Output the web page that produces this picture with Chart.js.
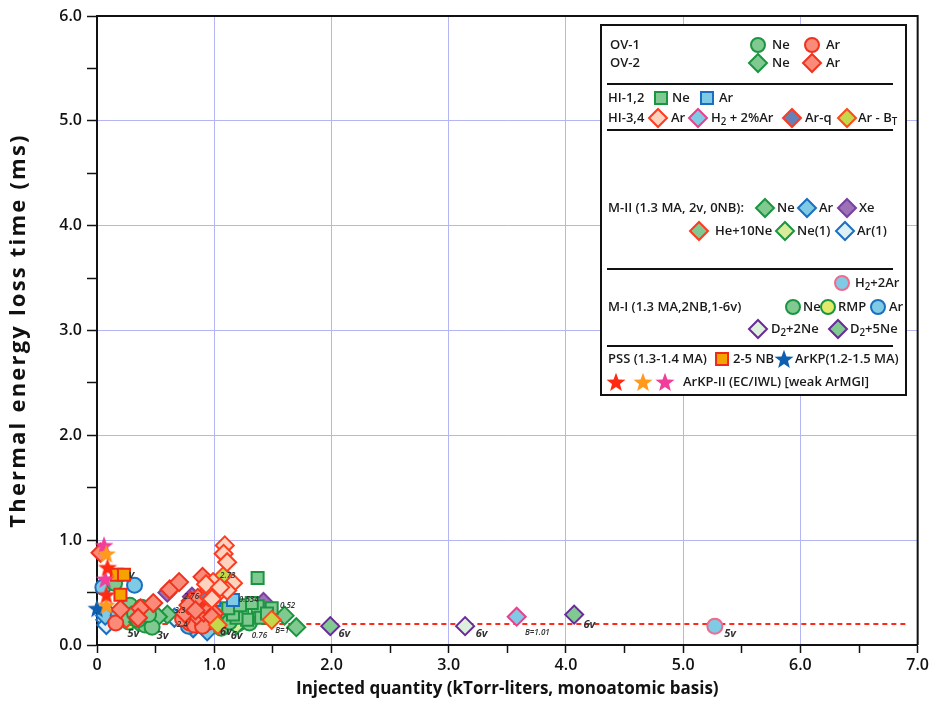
<!DOCTYPE html>
<html lang="en">
<head>
<meta charset="UTF-8">
<title>Thermal energy loss time vs injected quantity</title>
<script src="https://cdn.jsdelivr.net/npm/chart.js"></script>
<style>
    body { margin: 0; background: #fff; }
    #wrap { width: 932px; height: 711px; }
</style>
</head>
<body>
<div id="wrap"><canvas id="chart" width="932" height="711"></canvas></div>
<script>
// ---- data: [injected quantity, loss time] ----
const ov1Ne = [[0.15,0.59],[0.28,0.38],[0.32,0.30],[0.41,0.19],[0.47,0.17],[0.38,0.36],[1.06,0.16],[1.06,0.33],[1.30,0.21],[0.35,0.24],[0.44,0.29],[1.13,0.22]];
const ov1Ar = [[0.16,0.21],[0.79,0.21],[0.88,0.24],[0.96,0.22],[0.85,0.30],[0.92,0.27],[0.78,0.31],[0.83,0.19],[0.90,0.18],[0.73,0.25]];
const ov2Ne = [[0.30,0.34],[0.45,0.33],[0.52,0.27],[1.10,0.62],[1.00,0.30]];
const ov2Ar = [[0.03,0.88],[0.20,0.34],[0.37,0.35],[0.48,0.40],[0.35,0.26],[0.62,0.53],[0.70,0.60],[0.90,0.65],[0.92,0.48],[0.82,0.36],[0.88,0.37],[0.94,0.40],[0.85,0.28],[0.91,0.31],[0.96,0.34],[0.80,0.42],[0.75,0.30],[1.00,0.30],[0.86,0.45],[0.78,0.38],[0.84,0.33],[0.98,0.27]];
const hi12Ne = [[1.37,0.64],[1.24,0.31],[1.37,0.37],[1.49,0.35],[1.28,0.24],[1.40,0.26],[1.19,0.26],[1.32,0.40],[1.16,0.29],[1.12,0.35],[1.22,0.38],[1.45,0.30]];
const hi12Ar = [[1.00,0.43],[1.16,0.43]];
const hi34Ar = [[1.09,0.95],[1.08,0.87],[1.11,0.79],[0.99,0.60],[1.16,0.59],[0.96,0.54],[1.02,0.48],[1.11,0.52],[0.93,0.58],[1.05,0.55],[0.98,0.44]];
const hi34H2 = [[3.58,0.27]];
const hi34ArQ = [[0.95,0.46]];
const hi34ArBT = [[1.09,0.59],[1.03,0.19],[1.49,0.24],[1.08,0.66]];
const m2Ne = [[0.60,0.29],[1.60,0.28],[1.70,0.17]];
const m2Ar = [[0.82,0.16],[0.94,0.13],[0.07,0.28]];
const m2Xe = [[1.42,0.41],[0.60,0.50],[0.81,0.46]];
const m2HeNe = [[0.25,0.25]];
const m2Ne1 = [[1.19,0.19],[0.35,0.22]];
const m2Ar1 = [[0.07,0.24],[0.08,0.19],[0.66,0.26],[0.10,0.30]];
const m1H2Ar = [[5.27,0.18]];
const m1Ne = [[0.22,0.34],[0.25,0.27],[1.00,0.37],[0.30,0.26]];
const m1Rmp = [[0.27,0.22],[1.20,0.20]];
const m1Ar = [[0.32,0.57],[0.05,0.55],[0.42,0.21],[0.18,0.28],[0.78,0.18]];
const m1D2Ne2 = [[3.14,0.18]];
const m1D2Ne5 = [[1.99,0.18],[4.07,0.29]];
const pssNb = [[0.17,0.67],[0.23,0.67],[0.20,0.48]];
const arkp = [[0.00,0.35]];
const arkp2Red = [[0.09,0.74],[0.08,0.48]];
const arkp2Orange = [[0.08,0.87],[0.08,0.38]];
const arkp2Pink = [[0.06,0.95],[0.07,0.63]];

// dashed reference level
const refLineX = [0.02, 6.9];
const refLineY = 0.2;

// small shot notes written next to points
const noteText = ['5v','3v','v','2.76','3.3','2.4','2.73','0.534','0.52','0.76','B=1','6v','6v','6v','6v','B=1.01','6v','5v'];
const noteX = [0.26,0.51,0.27,0.74,0.66,0.68,1.05,1.21,1.56,1.32,1.52,1.05,1.14,2.06,3.23,3.65,4.15,5.35];
const noteY = [0.105,0.086,0.67,0.46,0.33,0.19,0.66,0.43,0.37,0.09,0.14,0.13,0.09,0.11,0.11,0.12,0.19,0.11];

const xTicks = [0,1,2,3,4,5,6,7];
const yTicks = [0,1,2,3,4,5,6];
const yTitle = 'Thermal energy loss time (ms)';

// colours
const GREEN = '#80c990', GREEN_B = '#1a9641';
const SALMON = '#f98b78', RED_B = '#f0321e';
const PEACH = '#fdd3bf';
const LBLUE = '#7fcbe6', BLUE_B = '#1b6fc0';
const PINK_B = '#e8428c';
const GRID = '#b3b5f5';

function pts(a) { return a.map(p => ({x: p[0], y: p[1]})); }

function starImage(color, size) {
    const c = document.createElement('canvas');
    c.width = size; c.height = size;
    const g = c.getContext('2d');
    const R = size / 2, r = R * 0.42;
    g.beginPath();
    for (let i = 0; i < 10; i++) {
        const a = -Math.PI / 2 + i * Math.PI / 5;
        const rr = i % 2 ? r : R;
        g.lineTo(R + rr * Math.cos(a), R * 1.08 + rr * Math.sin(a));
    }
    g.closePath();
    g.fillStyle = color;
    g.fill();
    return c;
}
const starBlue = starImage('#0f5fb0', 20);
const starRed = starImage('#ff2a12', 20);
const starOrange = starImage('#ff9a1a', 20);
const starPink = starImage('#f03e9a', 20);

function ds(label, data, shape, fill, border, r) {
    return {
        label: label, data: pts(data), pointStyle: shape,
        backgroundColor: fill, borderColor: border,
        pointRadius: r, pointHoverRadius: r, pointBorderWidth: 2, clip: false
    };
}
function starDs(label, data, img) {
    return { label: label, data: pts(data), pointStyle: img, pointRadius: 10, clip: false };
}

// first in list = drawn on top
const datasets = [
    starDs('ArKP-II red', arkp2Red, starRed),
    starDs('ArKP-II orange', arkp2Orange, starOrange),
    starDs('ArKP-II pink', arkp2Pink, starPink),
    starDs('ArKP', arkp, starBlue),
    ds('PSS 2-5 NB', pssNb, 'rect', '#f5a300', '#ee2a1a', 8.5),
    ds('HI-3,4 Ar', hi34Ar, 'rectRot', PEACH, '#ff3b1f', 9),
    ds('HI-3,4 Ar-BT', hi34ArBT, 'rectRot', '#c3d84b', '#ff4a1a', 9),
    ds('HI-3,4 Ar-q', hi34ArQ, 'rectRot', '#6680b8', '#ff3b1f', 9),
    ds('OV-2 Ar', ov2Ar, 'rectRot', SALMON, RED_B, 9),
    ds('OV-1 Ar', ov1Ar, 'circle', SALMON, RED_B, 7.5),
    ds('HI-1,2 Ar', hi12Ar, 'rect', LBLUE, BLUE_B, 8.5),
    ds('HI-1,2 Ne', hi12Ne, 'rect', GREEN, GREEN_B, 8.5),
    ds('OV-1 Ne', ov1Ne, 'circle', GREEN, GREEN_B, 7.5),
    ds('OV-2 Ne', ov2Ne, 'rectRot', GREEN, GREEN_B, 9),
    ds('M-II Ne', m2Ne, 'rectRot', GREEN, GREEN_B, 9),
    ds('M-II Ne(1)', m2Ne1, 'rectRot', '#d9ec9c', GREEN_B, 9),
    ds('M-II He+10Ne', m2HeNe, 'rectRot', GREEN, '#ff3b1f', 9),
    ds('M-I Ne', m1Ne, 'circle', GREEN, GREEN_B, 7.5),
    ds('M-I RMP', m1Rmp, 'circle', '#e2ea6a', GREEN_B, 7.5),
    ds('M-I Ar', m1Ar, 'circle', LBLUE, BLUE_B, 7.5),
    ds('M-II Ar', m2Ar, 'rectRot', LBLUE, BLUE_B, 9),
    ds('M-II Ar(1)', m2Ar1, 'rectRot', '#dbeff5', BLUE_B, 9),
    ds('M-II Xe', m2Xe, 'rectRot', '#9b72b5', '#7a3fa0', 9),
    ds('HI-3,4 H2 + 2%Ar', hi34H2, 'rectRot', LBLUE, PINK_B, 9),
    ds('M-I D2+2Ne', m1D2Ne2, 'rectRot', '#dcf0dc', '#6a2a9a', 9),
    ds('M-I D2+5Ne', m1D2Ne5, 'rectRot', GREEN, '#6a2a9a', 9),
    ds('M-I H2+2Ar', m1H2Ar, 'circle', LBLUE, '#f06a8c', 7.5),
    {
        label: 'reference', type: 'line',
        data: refLineX.map(x => ({x: x, y: refLineY})),
        borderColor: '#ff2a1a', borderWidth: 2, borderDash: [5, 4],
        pointRadius: 0, fill: false
    }
];

// text helpers: parts are [text, isSub]
function richText(ctx, parts, x, y, size) {
    let cx = x;
    for (const [t, sub] of parts) {
        ctx.font = '600 ' + (sub ? size * 0.75 : size) + 'px "Open Sans"';
        ctx.fillText(t, cx, sub ? y + size * 0.3 : y);
        cx += ctx.measureText(t).width;
    }
}
function mark(ctx, shape, x, y, fill, border) {
    ctx.save();
    ctx.fillStyle = fill; ctx.strokeStyle = border; ctx.lineWidth = 2;
    ctx.beginPath();
    if (shape === 'circle') ctx.arc(x, y, 7, 0, Math.PI * 2);
    else if (shape === 'square') ctx.rect(x - 6, y - 6, 12, 12);
    else { ctx.moveTo(x, y - 9); ctx.lineTo(x + 9, y); ctx.lineTo(x, y + 9); ctx.lineTo(x - 9, y); ctx.closePath(); }
    ctx.fill(); ctx.stroke();
    ctx.restore();
}

const framePlugin = {
    id: 'frame',
    afterDatasetsDraw(chart) {
        const {ctx, chartArea: a, scales} = chart;
        ctx.save();
        ctx.fillStyle = '#333';
        ctx.textBaseline = 'middle';
        noteText.forEach((t, i) => {
            const small = t.length > 2;
            ctx.font = 'italic ' + (small ? '600 8px' : '700 11px') + ' "Open Sans"';
            ctx.fillText(t, scales.x.getPixelForValue(noteX[i]), scales.y.getPixelForValue(noteY[i]));
        });
        ctx.strokeStyle = '#111';
        ctx.lineWidth = 2;
        ctx.beginPath();
        ctx.moveTo(a.left, a.top); ctx.lineTo(a.right, a.top); ctx.lineTo(a.right, a.bottom);
        ctx.stroke();

        // y axis title, a little letter-spaced like the original
        ctx.translate(19, (a.top + a.bottom) / 2);
        ctx.rotate(-Math.PI / 2);
        ctx.fillStyle = '#111';
        ctx.font = '700 22px "Open Sans"';
        if ('letterSpacing' in ctx) ctx.letterSpacing = '2.2px';
        ctx.textAlign = 'center';
        ctx.fillText(yTitle, 0, 0);
        ctx.restore();
    }
};

const legendPlugin = {
    id: 'boxLegend',
    afterDraw(chart) {
        const ctx = chart.ctx;
        const bx = 601, by = 25;
        ctx.save();
        ctx.fillStyle = '#fff';
        ctx.fillRect(bx, by, 305, 370);
        ctx.strokeStyle = '#111';
        ctx.lineWidth = 2;
        ctx.strokeRect(bx, by, 305, 370);
        [59, 105, 244, 321].forEach(dy => {
            ctx.beginPath(); ctx.moveTo(bx + 6, by + dy); ctx.lineTo(bx + 292, by + dy); ctx.stroke();
        });
        ctx.fillStyle = '#1a1a1a';
        ctx.textBaseline = 'middle';
        const T = (s, x, y) => richText(ctx, typeof s === 'string' ? [[s, 0]] : s, x, y, 13);

        T('OV-1', 610, 45);
        mark(ctx, 'circle', 758, 45, GREEN, GREEN_B); T('Ne', 772, 45);
        mark(ctx, 'circle', 812, 45, SALMON, RED_B); T('Ar', 826, 45);
        T('OV-2', 610, 63);
        mark(ctx, 'diamond', 758, 63, GREEN, GREEN_B); T('Ne', 772, 63);
        mark(ctx, 'diamond', 812, 63, SALMON, RED_B); T('Ar', 826, 63);

        T('HI-1,2', 608, 98);
        mark(ctx, 'square', 661, 98, GREEN, GREEN_B); T('Ne', 672, 98);
        mark(ctx, 'square', 707, 98, LBLUE, BLUE_B); T('Ar', 719, 98);
        T('HI-3,4', 608, 118);
        mark(ctx, 'diamond', 658, 118, PEACH, '#ff3b1f'); T('Ar', 671, 118);
        mark(ctx, 'diamond', 698, 118, LBLUE, PINK_B); T([['H', 0], ['2', 1], [' + 2%Ar', 0]], 711, 118);
        mark(ctx, 'diamond', 792, 118, '#6680b8', '#ff3b1f'); T('Ar-q', 805, 118);
        mark(ctx, 'diamond', 847, 118, '#c3d84b', '#ff4a1a'); T([['Ar - B', 0], ['T', 1]], 858, 118);

        T('M-II (1.3 MA, 2v, 0NB):', 608, 208);
        mark(ctx, 'diamond', 765, 208, GREEN, GREEN_B); T('Ne', 777, 208);
        mark(ctx, 'diamond', 807, 208, LBLUE, BLUE_B); T('Ar', 819, 208);
        mark(ctx, 'diamond', 847, 208, '#9b72b5', '#7a3fa0'); T('Xe', 859, 208);
        mark(ctx, 'diamond', 699, 231, GREEN, '#ff3b1f'); T('He+10Ne', 715, 231);
        mark(ctx, 'diamond', 785, 231, '#d9ec9c', GREEN_B); T('Ne(1)', 797, 231);
        mark(ctx, 'diamond', 845, 231, '#dbeff5', BLUE_B); T('Ar(1)', 857, 231);

        mark(ctx, 'circle', 842, 283, LBLUE, '#f06a8c'); T([['H', 0], ['2', 1], ['+2Ar', 0]], 855, 283);
        T('M-I (1.3 MA,2NB,1-6v)', 608, 307);
        mark(ctx, 'circle', 793, 307, GREEN, GREEN_B); T('Ne', 803, 307);
        mark(ctx, 'circle', 828, 307, '#e2ea6a', GREEN_B); T('RMP', 838, 307);
        mark(ctx, 'circle', 878, 307, LBLUE, BLUE_B); T('Ar', 889, 307);
        mark(ctx, 'diamond', 758, 329, '#dcf0dc', '#6a2a9a'); T([['D', 0], ['2', 1], ['+2Ne', 0]], 771, 329);
        mark(ctx, 'diamond', 838, 329, GREEN, '#6a2a9a'); T([['D', 0], ['2', 1], ['+5Ne', 0]], 850, 329);

        T('PSS (1.3-1.4 MA)', 608, 359);
        mark(ctx, 'square', 722, 359, '#f5a300', '#ee2a1a'); T('2-5 NB', 733, 359);
        ctx.drawImage(starBlue, 774, 349); T('ArKP(1.2-1.5 MA)', 795, 359);
        ctx.drawImage(starRed, 606, 372);
        ctx.drawImage(starOrange, 633, 372);
        ctx.drawImage(starPink, 655, 372);
        T('ArKP-II (EC/IWL) [weak ArMGI]', 683, 382);
        ctx.restore();
    }
};

function halfSteps(scale, top) {
    const t = [];
    for (let v = 0; v <= top; v += 0.5) t.push({value: v});
    scale.ticks = t;
}

new Chart(document.getElementById('chart'), {
    type: 'scatter',
    data: { datasets: datasets },
    options: {
        responsive: false,
        animation: false,
        events: [],
        layout: { padding: { top: 16, right: 11, left: 0, bottom: 0 } },
        plugins: { legend: { display: false }, tooltip: { enabled: false } },
        scales: {
            x: {
                type: 'linear', min: 0, max: 7,
                afterBuildTicks: s => halfSteps(s, xTicks[xTicks.length - 1]),
                afterFit: s => { s.height = 66; },
                ticks: {
                    autoSkip: false, maxRotation: 0, padding: 3, color: '#111',
                    font: { family: 'Open Sans', size: 16, weight: '600' },
                    callback: v => xTicks.includes(v) ? (v === 0 ? '0' : v.toFixed(1)) : ''
                },
                grid: {
                    color: c => (c.tick && xTicks.includes(c.tick.value) && c.tick.value > 0 && c.tick.value < 7) ? GRID : 'rgba(0,0,0,0)',
                    lineWidth: 1, tickColor: '#111', tickLength: 8, tickWidth: 1.5
                },
                border: { color: '#111', width: 2 },
                title: {
                    display: true, text: 'Injected quantity (kTorr-liters, monoatomic basis)', color: '#111',
                    font: { family: 'Open Sans', size: 17, weight: '700' }, padding: { top: 0, bottom: 12 }
                }
            },
            y: {
                type: 'linear', min: 0, max: 6,
                afterBuildTicks: s => halfSteps(s, yTicks[yTicks.length - 1]),
                afterFit: s => { s.width = 97; },
                ticks: {
                    autoSkip: false, padding: 5, color: '#111',
                    font: { family: 'Open Sans', size: 16, weight: '600' },
                    callback: v => yTicks.includes(v) ? v.toFixed(1) : ''
                },
                grid: {
                    color: c => (c.tick && yTicks.includes(c.tick.value) && c.tick.value > 0 && c.tick.value < 6) ? GRID : 'rgba(0,0,0,0)',
                    lineWidth: 1, tickColor: '#111', tickLength: 10, tickWidth: 1.5
                },
                border: { color: '#111', width: 2 },
                title: { display: false }
            }
        }
    },
    plugins: [framePlugin, legendPlugin]
});
</script>
</body>
</html>
